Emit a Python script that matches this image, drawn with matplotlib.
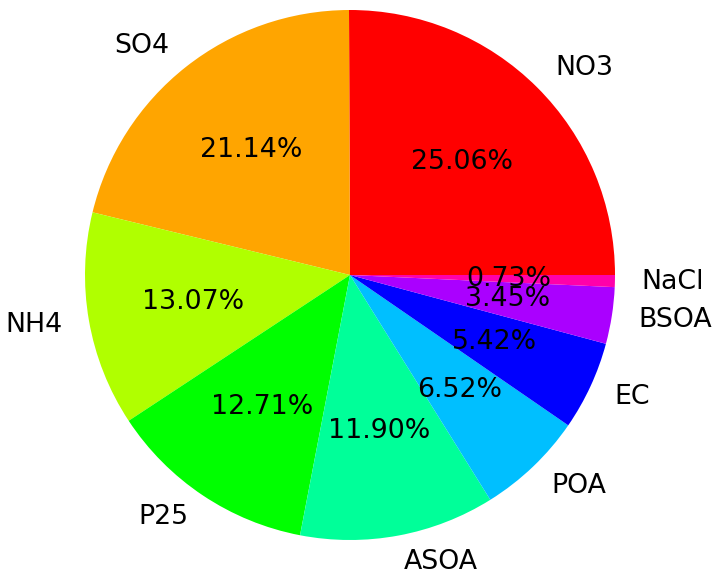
import matplotlib
matplotlib.use('Agg')
import matplotlib.pyplot as plt

labels = ['NO3', 'SO4', 'NH4', 'P25', 'ASOA', 'POA', 'EC', 'BSOA', 'NaCl']
shares = [25.06, 21.14, 13.07, 12.71, 11.90, 6.52, 5.42, 3.45, 0.73]
colors = ['red', 'orange', '#b0ff00', 'lime', '#00ff99', 'deepskyblue',
          'blue', '#aa00ff', '#ff00aa']

fig = plt.figure(figsize=(7.16, 5.73), dpi=100)
ax = fig.add_axes([0, 0, 1, 1])
ax.pie(shares, labels=labels, colors=colors, autopct='%.2f%%',
       startangle=0, textprops={'fontsize': 19.3})
ax.set_aspect('auto')
ax.set_xlim(-350 / 265, 366 / 265)
ax.set_ylim(-298 / 265, 275 / 265)
ax.set_axis_off()

plt.savefig('out.png', dpi=100)
